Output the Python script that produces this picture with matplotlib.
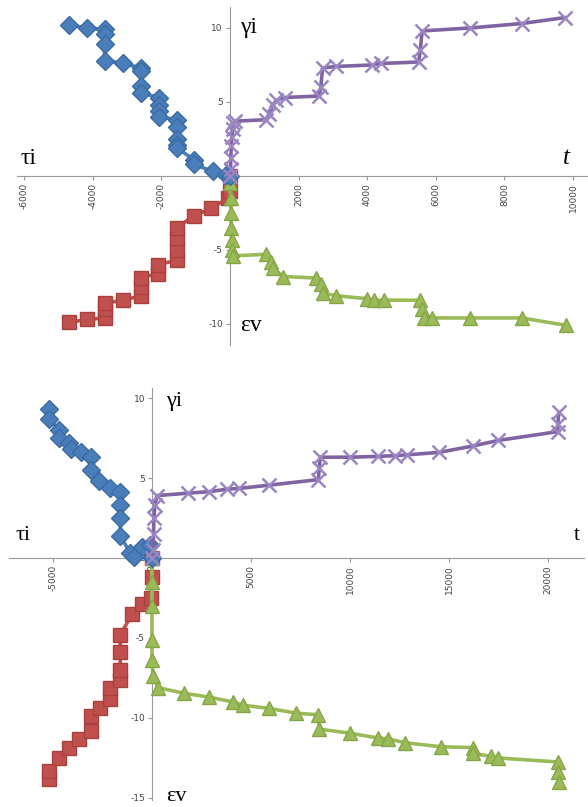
import matplotlib
matplotlib.use("Agg")
from matplotlib import pyplot as plt

plt.rcParams["axes.unicode_minus"] = False

# ---- top panel data ----
tau1_x = [-4700, -4150, -3650, -3650, -3650, -3650, -3100, -2600, -2600, -2600, -2600,
          -2050, -2050, -2050, -2050, -1550, -1550, -1550, -1550, -1550, -1050, -1050,
          -500, -100, 0]
tau1_y = [10.2, 10.0, 9.9, 9.6, 8.9, 7.8, 7.6, 7.3, 7.1, 6.1, 5.6,
          5.3, 4.8, 4.4, 4.0, 3.8, 3.3, 2.5, 2.1, 1.9, 1.1, 0.8,
          0.3, 0.05, 0]

gam1_x = [0, 20, 30, 40, 60, 80, 100, 150, 1050, 1150, 1250, 1350, 1600, 2600, 2650,
          2700, 3100, 4150, 4400, 5500, 5550, 5600, 7000, 8500, 9750]
gam1_y = [0, 0.5, 1.2, 2.0, 2.6, 3.2, 3.6, 3.7, 3.8, 4.2, 4.8, 5.1, 5.3, 5.4, 6.0,
          7.3, 7.4, 7.5, 7.6, 7.7, 8.5, 9.8, 10.0, 10.3, 10.7]

epsn1_x = [-4700, -4150, -3650, -3650, -3650, -3100, -2600, -2600, -2600, -2100, -2100,
           -1550, -1550, -1550, -1550, -1050, -550, -50, 0, 0]
epsn1_y = [-9.9, -9.7, -9.6, -9.0, -8.6, -8.4, -8.1, -7.5, -6.9, -6.6, -6.0,
           -5.7, -5.0, -4.2, -3.5, -2.7, -2.2, -1.5, -1.0, 0]

epsp1_x = [0, 10, 20, 30, 40, 50, 70, 90, 1050, 1200, 1250, 1550, 2500, 2650, 2700,
           3100, 4000, 4200, 4500, 5550, 5600, 5650, 5900, 7000, 8500, 9800]
epsp1_y = [0, -0.5, -1.5, -2.5, -3.5, -4.3, -5.0, -5.4, -5.3, -5.8, -6.2, -6.8, -6.9, -7.3, -7.9,
           -8.1, -8.3, -8.4, -8.4, -8.4, -9.0, -9.6, -9.6, -9.6, -9.6, -10.1]

# ---- bottom panel data ----
tau2_x = [-5200, -5200, -4700, -4700, -4200, -4100, -3600, -3100, -3100, -2700, -2100,
          -1600, -1600, -1600, -1600, -1100, -900, -500, -100, 0]
tau2_y = [9.3, 8.7, 8.0, 7.5, 7.2, 6.8, 6.6, 6.3, 5.5, 4.8, 4.4,
          4.1, 3.3, 2.5, 1.4, 0.3, 0.05, 0.7, 0.8, 0]

gam2_x = [0, 50, 80, 100, 150, 250, 1800, 2900, 3800, 4400, 5900, 8400, 8450, 8500,
          10000, 11400, 12300, 12900, 14500, 16200, 17500, 20500, 20500, 20550]
gam2_y = [0, 0.5, 1.5, 2.5, 3.3, 3.9, 4.05, 4.15, 4.3, 4.35, 4.55, 4.9, 5.6, 6.3,
          6.3, 6.35, 6.4, 6.45, 6.6, 7.0, 7.35, 7.9, 8.4, 9.1]

epsn2_x = [-5200, -5200, -4700, -4200, -3700, -3100, -3100, -2600, -2100, -2100, -1600,
           -1600, -1600, -1600, -1000, -500, -50, 0, 0]
epsn2_y = [-13.8, -13.3, -12.5, -11.9, -11.3, -10.8, -9.9, -9.4, -8.8, -8.1, -7.6,
           -7.0, -5.9, -4.8, -3.5, -2.9, -2.5, -1.2, 0]

epsp2_x = [0, 0, 0, 0, 0, 50, 300, 1600, 2900, 4100, 4600, 5900, 7300, 8400, 8450,
           10000, 11400, 11900, 12800, 14600, 16200, 16200, 17100, 17500, 20500, 20500, 20550]
epsp2_y = [0, -1.5, -3.0, -5.1, -6.4, -7.4, -8.1, -8.45, -8.7, -9.0, -9.2, -9.4, -9.7, -9.8, -10.7,
           -10.95, -11.25, -11.3, -11.55, -11.8, -11.85, -12.2, -12.4, -12.5, -12.75, -13.4, -14.0]

BLUE = "#4a7ebb"
RED = "#c0504d"
GREEN = "#9bbb59"
PURPLE = "#8064a2"
AXC = "#9a9a9a"


def style_axes(ax, xticks, yticks):
    for s in ("top", "right"):
        ax.spines[s].set_visible(False)
    ax.spines["left"].set_position(("data", 0))
    ax.spines["bottom"].set_position(("data", 0))
    ax.spines["left"].set_color(AXC)
    ax.spines["bottom"].set_color(AXC)
    ax.set_xticks(xticks)
    ax.set_yticks(yticks)
    ax.tick_params(axis="x", direction="out", length=3, color=AXC, labelsize=6.5,
                   labelcolor="#444444", labelrotation=90, pad=2)
    ax.tick_params(axis="y", direction="out", length=3, color=AXC, labelsize=6.5,
                   labelcolor="#444444", pad=2)
    ax.set_facecolor("none")


def draw_series(ax, tx, ty, gx, gy, nx, ny, px, py):
    ax.plot(nx, ny, color=RED, lw=2.6, marker="s", ms=10, mfc=RED, mec="#a8403d", zorder=3)
    ax.plot(px, py, color=GREEN, lw=2.6, marker="^", ms=10, mfc=GREEN, mec="#86a548", zorder=3)
    ax.plot(tx, ty, color=BLUE, lw=2.6, marker="D", ms=9, mfc=BLUE, mec="#3b6aa3", zorder=4)
    ax.plot(gx, gy, color=PURPLE, lw=2.6, marker="x", ms=10, mew=1.8, mec="#9a86c2", zorder=4)


fig = plt.figure(figsize=(5.88, 8.07), dpi=100)

serif = ["Liberation Serif", "DejaVu Serif"]

ax1 = fig.add_axes([0.029, 0.573, 0.969, 0.418])
draw_series(ax1, tau1_x, tau1_y, gam1_x, gam1_y, epsn1_x, epsn1_y, epsp1_x, epsp1_y)
ax1.set_xlim(-6200, 10400)
ax1.set_ylim(-11.4, 11.4)
style_axes(ax1, range(-6000, 10001, 2000), [-10, -5, 0, 5, 10])
ax1.text(-6100, 1.2, "τi", family=serif, fontsize=17, ha="left", va="center")
ax1.text(300, 10.0, "γi", family=serif, fontsize=17, ha="left", va="center")
ax1.text(9700, 1.2, "t", family=serif, fontsize=18, style="italic", ha="left", va="center")
ax1.text(300, -10.1, "εv", family=serif, fontsize=17, ha="left", va="center")

ax2 = fig.add_axes([0.016, 0.0092, 0.9765, 0.5095])
draw_series(ax2, tau2_x, tau2_y, gam2_x, gam2_y, epsn2_x, epsn2_y, epsp2_x, epsp2_y)
ax2.set_xlim(-7200, 21800)
ax2.set_ylim(-15.1, 10.6)
style_axes(ax2, range(-5000, 20001, 5000), [-15, -10, -5, 0, 5, 10])
ax2.text(-6900, 1.4, "τi", family=serif, fontsize=16, ha="left", va="center")
ax2.text(700, 9.8, "γi", family=serif, fontsize=16, ha="left", va="center")
ax2.text(21300, 1.4, "t", family=serif, fontsize=16, ha="left", va="center")
ax2.text(700, -14.9, "εv", family=serif, fontsize=16, ha="left", va="center")

fig.savefig("out.png", dpi=100)
